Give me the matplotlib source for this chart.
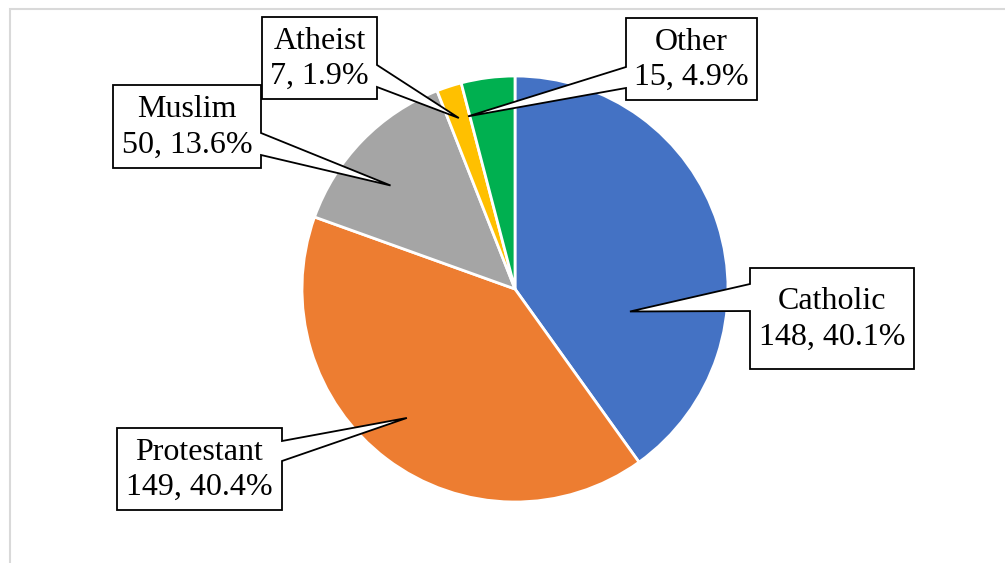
import matplotlib.pyplot as plt
from matplotlib.patches import Polygon, Rectangle
import numpy as np

plt.rcParams['font.family'] = ['Liberation Serif', 'DejaVu Serif']

# Data
religions = ["Catholic", "Protestant", "Muslim", "Atheist", "Other"]
counts = [148, 149, 50, 7, 15]
pct_labels = ["40.1%", "40.4%", "13.6%", "1.9%", "4.9%"]
colors = ["#4472C4", "#ED7D31", "#A5A5A5", "#FFC000", "#00B050"]

W, H = 1005, 563
fig = plt.figure(figsize=(W / 100, H / 100), dpi=100)
ax = fig.add_axes([0, 0, 1, 1])
ax.set_xlim(0, W)
ax.set_ylim(0, H)
ax.axis('off')

# light chart-area border
ax.add_patch(Rectangle((10, -10), 1100, H - 9 + 10, fill=False,
                       edgecolor='#d9d9d9', linewidth=1.5))

cx, cy, R = 515, H - 289, 213
wedges, _ = ax.pie(counts, colors=colors, startangle=90, counterclock=False,
                   center=(cx, cy), radius=R,
                   wedgeprops=dict(edgecolor='white', linewidth=2))
ax.set_xlim(0, W)
ax.set_ylim(0, H)

# callout layout: box (x0, y0, x1, y1) in pixels from top-left, side of pointer,
# pointer base (ya, yb), tip position (fraction along slice, radius fraction)
layout = {
    "Catholic":   ((750, 268, 914, 369), 'left', (284, 311), (0.70, 0.55)),
    "Protestant": ((117, 428, 282, 510), 'right', (441, 461), (0.52, 0.79)),
    "Muslim":     ((113, 85, 261, 168), 'right', (133, 155), (0.41, 0.76)),
    "Atheist":    ((262, 17, 377, 99), 'right', (65, 87), (0.48, 0.845)),
    "Other":      ((626, 18, 757, 100), 'left', (67, 88), (-0.04, 0.84)),
}

total = sum(counts)
start = 0.0
for name, n, pct in zip(religions, counts, pct_labels):
    span = 360.0 * n / total
    (x0, y0, x1, y1), side, (ya, yb), (frac, rf) = layout[name]
    ang = np.deg2rad(90 - (start + frac * span))
    tip = (cx + rf * R * np.cos(ang), cy + rf * R * np.sin(ang))
    start += span
    Y = lambda y: H - y
    if side == 'right':
        verts = [(x0, Y(y0)), (x1, Y(y0)), (x1, Y(ya)), tip, (x1, Y(yb)),
                 (x1, Y(y1)), (x0, Y(y1))]
    else:
        verts = [(x0, Y(y0)), (x1, Y(y0)), (x1, Y(y1)), (x0, Y(y1)),
                 (x0, Y(yb)), tip, (x0, Y(ya))]
    ax.add_patch(Polygon(verts, closed=True, facecolor='white',
                         edgecolor='black', linewidth=1.3, joinstyle='miter',
                         zorder=5))
    ax.text((x0 + x1) / 2, Y((y0 + y1) / 2) - 1, f"{name}\n{n}, {pct}",
            ha='center', va='center', fontsize=23, linespacing=1.3,
            color='black', zorder=6)

plt.savefig('out.png', dpi=100)
